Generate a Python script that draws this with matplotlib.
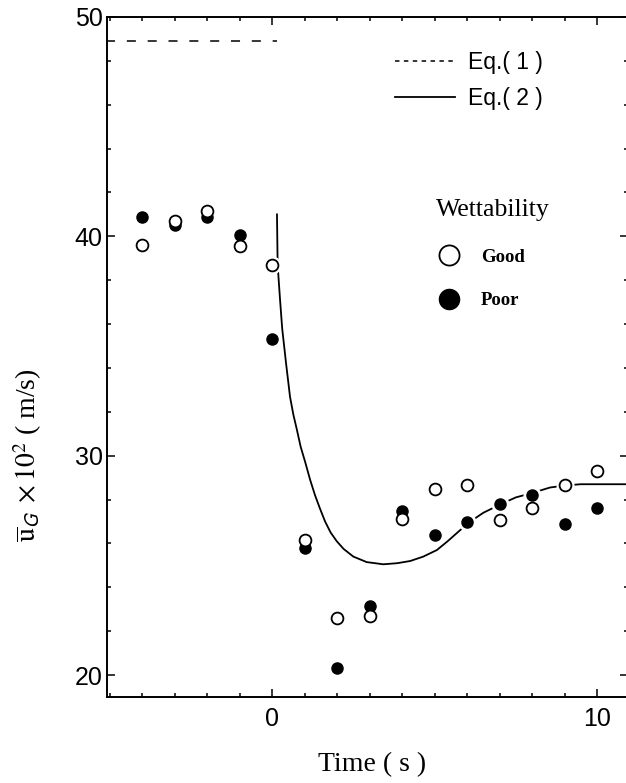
import matplotlib
matplotlib.use("Agg")
import matplotlib.pyplot as plt
from matplotlib.lines import Line2D
from matplotlib.ticker import MultipleLocator

plt.rcParams['mathtext.fontset'] = 'stix'
plt.rcParams['lines.scale_dashes'] = False

# Données
temps = [-4, -3, -2, -1, 0, 1, 2, 3, 4, 5, 6, 7, 8, 9, 10]
u_bon = [39.6, 40.7, 41.15, 39.55, 38.7, 26.15, 22.6, 22.7, 27.1, 28.5, 28.65, 27.05, 27.6, 28.65, 29.3]
u_mauvais = [40.9, 40.5, 40.9, 40.05, 35.3, 25.8, 20.3, 23.15, 27.5, 26.4, 27.0, 27.8, 28.2, 26.9, 27.6]

# Eq.(1) : palier constant avant t = 0
eq1_t = [-5.1, 0.15]
eq1_u = [48.9, 48.9]

# Eq.(2) : points relevés le long de la courbe
eq2_t = [0.15, 0.17, 0.24, 0.31, 0.43, 0.55, 0.65, 0.76, 0.88, 1.02, 1.17, 1.32, 1.47,
         1.63, 1.8, 1.99, 2.2, 2.5, 2.91, 3.42, 3.85, 4.25, 4.65, 5.07, 5.4, 5.78,
         6.1, 6.5, 7.05, 7.5, 8.0, 8.55, 9.05, 9.5, 11.0]
eq2_u = [41.0, 38.7, 37.2, 35.8, 34.2, 32.7, 31.9, 31.2, 30.4, 29.7, 28.9, 28.2, 27.6,
         27.0, 26.5, 26.1, 25.75, 25.4, 25.15, 25.05, 25.1, 25.2, 25.4, 25.7, 26.1, 26.6,
         27.0, 27.4, 27.8, 28.1, 28.3, 28.55, 28.65, 28.7, 28.7]

fig = plt.figure(figsize=(6.26, 7.83), dpi=100)
ax = fig.add_axes([107/626, 86/783, 521/626, 680/783])

ax.plot(eq1_t, eq1_u, color='black', lw=1.1, dashes=(6.5, 8.5), zorder=2)
ax.plot(eq2_t, eq2_u, color='black', lw=1.3, zorder=2)

# halo blanc autour des points (la courbe est interrompue)
ax.plot(temps, u_mauvais, 'o', ms=12, color='white', zorder=3)
ax.plot(temps, u_bon, 'o', ms=12, color='white', zorder=3)
ax.plot(temps, u_mauvais, 'o', ms=8, mfc='black', mec='black', zorder=4)
ax.plot(temps, u_bon, 'o', ms=8.5, mfc='white', mec='black', mew=1.3, zorder=5)

ax.set_xlim(-5.08, 10.95)
ax.set_ylim(19, 50)
ax.xaxis.set_major_locator(MultipleLocator(10))
ax.xaxis.set_minor_locator(MultipleLocator(1))
ax.yaxis.set_major_locator(MultipleLocator(10))
ax.yaxis.set_minor_locator(MultipleLocator(2))
ax.tick_params(which='both', direction='in', top=True, right=True, width=1.1)
ax.tick_params(which='major', length=6, labelsize=18)
ax.tick_params(axis='x', which='major', pad=7)
ax.tick_params(axis='y', which='major', pad=3)
ax.tick_params(which='minor', length=3)
for lab in ax.get_xticklabels() + ax.get_yticklabels():
    lab.set_family('Liberation Sans')
for sp in ax.spines.values():
    sp.set_linewidth(1.4)
ax.spines['right'].set_visible(False)

fig.text(372/626, 1 - 765/783, 'Time ( s )', family='Liberation Serif',
         fontsize=20, ha='center', va='center')
fig.text(28/626, 1 - 455/783, r'$\overline{\mathrm{u}}_{\mathsf{G}}\ \times 10^{2}$ ( m/s)',
         family='Liberation Serif', fontsize=20, rotation=90, ha='center', va='center')

# légende des équations
h1 = Line2D([], [], color='black', lw=1.1, dashes=(3.2, 3.2))
h2 = Line2D([], [], color='black', lw=1.3)
leg1 = ax.legend([h1, h2], ['Eq.( 1 )', 'Eq.( 2 )'], loc='upper left',
                 bbox_to_anchor=(395/626, 1 - 51/783), bbox_transform=fig.transFigure,
                 frameon=False, handlelength=2.6, handletextpad=0.57, labelspacing=0.55,
                 borderpad=0, borderaxespad=0, prop={'family': 'Liberation Sans', 'size': 16.5})
ax.add_artist(leg1)

# légende de la mouillabilité
h3 = Line2D([], [], ls='none', marker='o', ms=14.5, mfc='white', mec='black', mew=1.3)
h4 = Line2D([], [], ls='none', marker='o', ms=14.5, mfc='black', mec='black')
leg2 = ax.legend([h3, h4], ['Good', 'Poor'], loc='upper left', title='Wettability',
                 bbox_to_anchor=(436/626, 1 - 199/783), bbox_transform=fig.transFigure,
                 frameon=False, handlelength=1.4, handletextpad=1.0, labelspacing=1.4,
                 borderpad=0, borderaxespad=0, alignment='left',
                 prop={'family': 'Liberation Serif', 'size': 13.5, 'weight': 'bold'},
                 title_fontproperties={'family': 'Liberation Serif', 'size': 18.5})
leg2._legend_box.sep = 20

fig.savefig('out.png', dpi=100)
